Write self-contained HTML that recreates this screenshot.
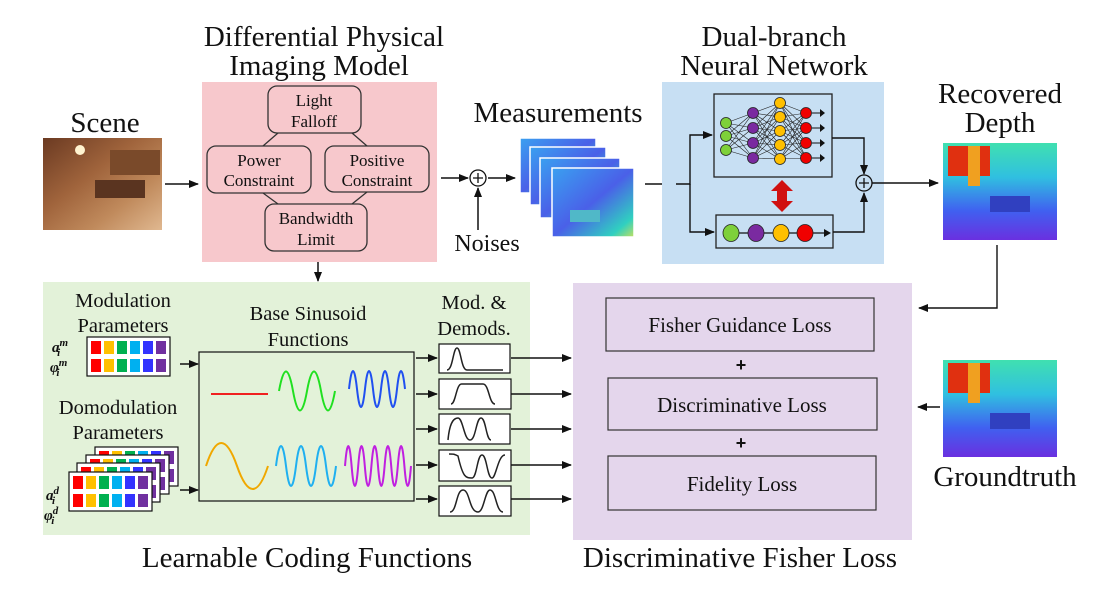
<!DOCTYPE html>
<html><head><meta charset="utf-8"><style>
html,body{margin:0;padding:0;background:#fff;}
svg{display:block;font-family:"Liberation Serif",serif;}
</style></head><body>
<svg width="1104" height="595" viewBox="0 0 1104 595" xmlns="http://www.w3.org/2000/svg">
<defs>
<marker id="ah" markerWidth="10" markerHeight="8" refX="9" refY="4" orient="auto" markerUnits="userSpaceOnUse"><path d="M0,0 L10,4 L0,8 z" fill="#111"/></marker>
<linearGradient id="scene" x1="0" y1="0" x2="1" y2="1"><stop offset="0" stop-color="#6b3a22"/><stop offset="0.4" stop-color="#a0643c"/><stop offset="0.7" stop-color="#c08a5c"/><stop offset="1" stop-color="#e0b890"/></linearGradient>
<linearGradient id="depth" x1="0" y1="0" x2="0" y2="1"><stop offset="0" stop-color="#40e0b0"/><stop offset="0.35" stop-color="#30c0e0"/><stop offset="0.7" stop-color="#4060f0"/><stop offset="1" stop-color="#6a30e0"/></linearGradient>
<linearGradient id="meas" x1="0" y1="0" x2="1" y2="1"><stop offset="0" stop-color="#3aa0f0"/><stop offset="0.5" stop-color="#4a60e8"/><stop offset="0.85" stop-color="#30d0c0"/><stop offset="1" stop-color="#c0e060"/></linearGradient>
</defs>

<g font-size="29" text-anchor="middle" fill="#111">
<text x="324" y="46">Differential Physical</text>
<text x="319" y="75">Imaging Model</text>
<text x="105" y="132">Scene</text>
<text x="558" y="122">Measurements</text>
<text x="774" y="46">Dual-branch</text>
<text x="774" y="75">Neural Network</text>
<text x="1000" y="103">Recovered</text>
<text x="1000" y="132">Depth</text>
<text x="1005" y="486">Groundtruth</text>
<text x="307" y="567">Learnable Coding Functions</text>
<text x="740" y="567">Discriminative Fisher Loss</text>
<text x="487" y="251" font-size="24">Noises</text>
</g>

<rect x="43" y="138" width="119" height="92" fill="url(#scene)"/>
<rect x="95" y="180" width="50" height="18" fill="#5a3420"/>
<rect x="110" y="150" width="50" height="25" fill="#7a4a2a"/>
<circle cx="80" cy="150" r="5" fill="#fff3d0"/>
<line x1="165" y1="184" x2="198" y2="184" stroke="#111" stroke-width="1.5" marker-end="url(#ah)"/>

<rect x="202" y="82" width="235" height="180" fill="#f7c8cc"/>
<g stroke="#333" stroke-width="1.3" fill="none">
<line x1="278" y1="133" x2="263" y2="146"/><line x1="352" y1="133" x2="367" y2="146"/>
<line x1="278" y1="204" x2="263" y2="193"/><line x1="352" y1="204" x2="367" y2="192"/>
</g>
<g fill="#f7c8cc" stroke="#333" stroke-width="1.3">
<rect x="268" y="86" width="93" height="47" rx="9"/>
<rect x="207" y="146" width="104" height="47" rx="9"/>
<rect x="325" y="146" width="104" height="46" rx="9"/>
<rect x="265" y="204" width="102" height="47" rx="9"/>
</g>
<g font-size="17" text-anchor="middle" fill="#111">
<text x="314" y="106">Light</text><text x="314" y="127">Falloff</text>
<text x="259" y="166">Power</text><text x="259" y="186">Constraint</text>
<text x="377" y="166">Positive</text><text x="377" y="186">Constraint</text>
<text x="316" y="224">Bandwidth</text><text x="316" y="245">Limit</text>
</g>
<line x1="318" y1="262" x2="318" y2="281" stroke="#111" stroke-width="1.5" marker-end="url(#ah)"/>

<line x1="441" y1="178" x2="468" y2="178" stroke="#111" stroke-width="1.5" marker-end="url(#ah)"/>
<circle cx="478" cy="178" r="8" fill="#fff" stroke="#111" stroke-width="1.3"/>
<path d="M473,178 h10 M478,173 v10" stroke="#111" stroke-width="1.3"/>
<line x1="478" y1="230" x2="478" y2="188" stroke="#111" stroke-width="1.5" marker-end="url(#ah)"/>
<line x1="488" y1="178" x2="515" y2="178" stroke="#111" stroke-width="1.5" marker-end="url(#ah)"/>

<g stroke="#fff" stroke-width="1.5">
<rect x="520" y="138" width="76" height="55" fill="url(#meas)"/>
<rect x="530" y="147" width="76" height="58" fill="url(#meas)"/>
<rect x="540" y="158" width="80" height="60" fill="url(#meas)"/>
<rect x="552" y="168" width="82" height="69" fill="url(#meas)"/>
</g>
<rect x="570" y="210" width="30" height="12" fill="#50b8c8"/>
<line x1="645" y1="184" x2="676" y2="184" stroke="#111" stroke-width="1.5" marker-end="url(#ah)"/>

<rect x="662" y="82" width="222" height="182" fill="#c7dff3"/>
<rect x="714" y="94" width="118" height="83" fill="none" stroke="#222" stroke-width="1.3"/>
<rect x="716" y="215" width="117" height="33" fill="none" stroke="#222" stroke-width="1.3"/>
<g stroke="#111" stroke-width="1.4" fill="none">
<path d="M676,184 H690 V135 H712" marker-end="url(#ah)"/>
<path d="M690,184 V232 H714" marker-end="url(#ah)"/>
<path d="M832,138 H864 V174" marker-end="url(#ah)"/>
<path d="M833,232 H864 V193" marker-end="url(#ah)"/>
<line x1="872" y1="183" x2="938" y2="183" marker-end="url(#ah)"/>
</g>
<circle cx="864" cy="183" r="8" fill="#c7dff3" stroke="#111" stroke-width="1.3"/>
<path d="M859,183 h10 M864,178 v10" stroke="#111" stroke-width="1.3"/>
<g stroke="#222" stroke-width="0.6">
<path d="M726,123 L753,113 M726,123 L753,128 M726,123 L753,143 M726,123 L753,158 M726,136 L753,113 M726,136 L753,128 M726,136 L753,143 M726,136 L753,158 M726,150 L753,113 M726,150 L753,128 M726,150 L753,143 M726,150 L753,158"/>
<path d="M753,113 L780,103 M753,113 L780,117 M753,113 L780,131 M753,113 L780,145 M753,113 L780,159 M753,128 L780,103 M753,128 L780,117 M753,128 L780,131 M753,128 L780,145 M753,128 L780,159 M753,143 L780,103 M753,143 L780,117 M753,143 L780,131 M753,143 L780,145 M753,143 L780,159 M753,158 L780,103 M753,158 L780,117 M753,158 L780,131 M753,158 L780,145 M753,158 L780,159"/>
<path d="M780,103 L806,113 M780,103 L806,128 M780,103 L806,143 M780,103 L806,158 M780,117 L806,113 M780,117 L806,128 M780,117 L806,143 M780,117 L806,158 M780,131 L806,113 M780,131 L806,128 M780,131 L806,143 M780,131 L806,158 M780,145 L806,113 M780,145 L806,128 M780,145 L806,143 M780,145 L806,158 M780,159 L806,113 M780,159 L806,128 M780,159 L806,143 M780,159 L806,158"/>
</g>
<g stroke="#222" stroke-width="0.8">
<circle cx="726" cy="123" r="5.5" fill="#7ed03a"/><circle cx="726" cy="136" r="5.5" fill="#7ed03a"/><circle cx="726" cy="150" r="5.5" fill="#7ed03a"/>
<circle cx="753" cy="113" r="5.5" fill="#7a2aa0"/><circle cx="753" cy="128" r="5.5" fill="#7a2aa0"/><circle cx="753" cy="143" r="5.5" fill="#7a2aa0"/><circle cx="753" cy="158" r="5.5" fill="#7a2aa0"/>
<circle cx="780" cy="103" r="5.5" fill="#ffc000"/><circle cx="780" cy="117" r="5.5" fill="#ffc000"/><circle cx="780" cy="131" r="5.5" fill="#ffc000"/><circle cx="780" cy="145" r="5.5" fill="#ffc000"/><circle cx="780" cy="159" r="5.5" fill="#ffc000"/>
<circle cx="806" cy="113" r="5.5" fill="#f00000"/><circle cx="806" cy="128" r="5.5" fill="#f00000"/><circle cx="806" cy="143" r="5.5" fill="#f00000"/><circle cx="806" cy="158" r="5.5" fill="#f00000"/>
</g>
<g stroke="#111" stroke-width="1"><path d="M812,113h8M812,128h8M812,143h8M812,158h8"/></g>
<g fill="#111"><path d="M820,109l5,4l-5,4z M820,124l5,4l-5,4z M820,139l5,4l-5,4z M820,154l5,4l-5,4z"/></g>
<line x1="730" y1="233" x2="826" y2="233" stroke="#111" stroke-width="1.2"/>
<path d="M824,229 l7,4 l-7,4z" fill="#111"/>
<g stroke="#222" stroke-width="0.8">
<ellipse cx="731" cy="233" rx="8" ry="8.5" fill="#7ed03a"/>
<ellipse cx="756" cy="233" rx="8" ry="8.5" fill="#7a2aa0"/>
<ellipse cx="781" cy="233" rx="8" ry="8.5" fill="#ffc000"/>
<ellipse cx="805" cy="233" rx="8" ry="8.5" fill="#f00000"/>
</g>
<path d="M782,180 l-11,11 h6 v10 h-6 l11,11 l11,-11 h-6 v-10 h6 z" fill="#d01010"/>

<rect x="943" y="143" width="114" height="97" fill="url(#depth)"/>
<rect x="948" y="146" width="42" height="30" fill="#e03010"/>
<rect x="968" y="146" width="12" height="40" fill="#f0a020"/>
<rect x="990" y="196" width="40" height="16" fill="#3040c0"/>
<rect x="943" y="360" width="114" height="97" fill="url(#depth)"/>
<rect x="948" y="363" width="42" height="30" fill="#e03010"/>
<rect x="968" y="363" width="12" height="40" fill="#f0a020"/>
<rect x="990" y="413" width="40" height="16" fill="#3040c0"/>
<path d="M997,245 V308 H919" fill="none" stroke="#111" stroke-width="1.4" marker-end="url(#ah)"/>
<line x1="940" y1="407" x2="918" y2="407" stroke="#111" stroke-width="1.4" marker-end="url(#ah)"/>

<rect x="43" y="282" width="487" height="253" fill="#e3f2d9"/>
<g font-size="20.5" text-anchor="middle" fill="#111">
<text x="123" y="307">Modulation</text><text x="123" y="332">Parameters</text>
<text x="118" y="414">Domodulation</text><text x="118" y="439">Parameters</text>
<text x="308" y="320">Base Sinusoid</text><text x="308" y="346">Functions</text>
<text x="474" y="309">Mod. &amp;</text><text x="474" y="335">Demods.</text>
</g>
<g font-size="15" font-style="italic" font-weight="bold" fill="#111">
<text x="52" y="352">a<tspan font-size="11" dy="-6">m</tspan><tspan font-size="11" dx="-11" dy="10">i</tspan></text>
<text x="50" y="372">φ<tspan font-size="11" dy="-6">m</tspan><tspan font-size="11" dx="-11" dy="10">i</tspan></text>
<text x="46" y="500">a<tspan font-size="11" dy="-6">d</tspan><tspan font-size="11" dx="-7" dy="10">i</tspan></text>
<text x="44" y="520">φ<tspan font-size="11" dy="-6">d</tspan><tspan font-size="11" dx="-7" dy="10">i</tspan></text>
</g>
<g id="grid">
<rect x="87" y="337" width="83" height="39" fill="#fff" stroke="#111" stroke-width="1.2"/>
<rect x="91" y="341" width="10" height="13" fill="#f00"/><rect x="104" y="341" width="10" height="13" fill="#ffc000"/><rect x="117" y="341" width="10" height="13" fill="#00b050"/><rect x="130" y="341" width="10" height="13" fill="#00b0f0"/><rect x="143" y="341" width="10" height="13" fill="#3333ff"/><rect x="156" y="341" width="10" height="13" fill="#7030a0"/>
<rect x="91" y="359" width="10" height="13" fill="#f00"/><rect x="104" y="359" width="10" height="13" fill="#ffc000"/><rect x="117" y="359" width="10" height="13" fill="#00b050"/><rect x="130" y="359" width="10" height="13" fill="#00b0f0"/><rect x="143" y="359" width="10" height="13" fill="#3333ff"/><rect x="156" y="359" width="10" height="13" fill="#7030a0"/>
</g>
<use href="#grid" x="8" y="110"/>
<use href="#grid" x="-1" y="118"/>
<use href="#grid" x="-10" y="126"/>
<use href="#grid" x="-18" y="135"/>
<line x1="180" y1="364" x2="198" y2="364" stroke="#111" stroke-width="1.5" marker-end="url(#ah)"/>
<line x1="180" y1="490" x2="198" y2="490" stroke="#111" stroke-width="1.5" marker-end="url(#ah)"/>
<rect x="199" y="352" width="215" height="149" fill="none" stroke="#111" stroke-width="1.2"/>
<g fill="none" stroke-width="2">
<line x1="211" y1="394" x2="268" y2="394" stroke="#f02020"/>
<path d="M279,391 Q286,352 293,391 T307,391 T321,391 T335,391" stroke="#20e020"/>
<path d="M349,389 q4,-36 8,0 t8,0 t8,0 t8,0 t8,0 t8,0 t8,0" stroke="#2050f0"/>
<path d="M206,466 Q221,420 237,466 T268,466" stroke="#f0a800"/>
<path d="M276,466 q5,-40 10,0 t10,0 t10,0 t10,0 t10,0 t10,0" stroke="#20b0f0"/>
<path d="M345,466 q3.3,-40 6.6,0 t6.6,0 t6.6,0 t6.6,0 t6.6,0 t6.6,0 t6.6,0 t6.6,0 t6.6,0 t6.6,0" stroke="#c020e0"/>
</g>
<g fill="#fff" stroke="#111" stroke-width="1.2">
<rect x="439" y="344" width="71" height="29"/>
<rect x="439" y="379" width="72" height="30"/>
<rect x="439" y="414" width="71" height="30"/>
<rect x="439" y="450" width="72" height="31"/>
<rect x="439" y="486" width="72" height="30"/>
</g>
<g fill="none" stroke="#222" stroke-width="1.5">
<path d="M447,370 C453,370 453,348 457,348 C461,348 461,370 467,370 H503"/>
<path d="M451,404 C456,404 456,383 462,384 H483 C489,384 489,404 495,404"/>
<path d="M448,440 C450,418 456,418 458,418 C463,418 464,440 470,440 C476,440 476,418 481,418 C486,418 486,440 491,440"/>
<path d="M449,454 C454,454 454,454 458,456 C463,478 466,478 472,478 C477,478 477,455 482,455 C487,455 487,478 492,478 C496,478 498,455 505,455"/>
<path d="M450,512 C457,512 456,490 463,490 C470,490 469,512 478,512 C484,512 485,490 490,490 C496,490 496,512 503,512"/>
</g>
<g stroke="#111" stroke-width="1.5">
<line x1="416" y1="358" x2="437" y2="358" marker-end="url(#ah)"/>
<line x1="416" y1="394" x2="437" y2="394" marker-end="url(#ah)"/>
<line x1="416" y1="429" x2="437" y2="429" marker-end="url(#ah)"/>
<line x1="416" y1="465" x2="437" y2="465" marker-end="url(#ah)"/>
<line x1="416" y1="499" x2="437" y2="499" marker-end="url(#ah)"/>
<line x1="511" y1="358" x2="571" y2="358" marker-end="url(#ah)"/>
<line x1="511" y1="394" x2="571" y2="394" marker-end="url(#ah)"/>
<line x1="511" y1="429" x2="571" y2="429" marker-end="url(#ah)"/>
<line x1="511" y1="465" x2="571" y2="465" marker-end="url(#ah)"/>
<line x1="511" y1="499" x2="571" y2="499" marker-end="url(#ah)"/>
</g>

<rect x="573" y="283" width="339" height="257" fill="#e4d6ec"/>
<g fill="none" stroke="#333" stroke-width="1.2">
<rect x="606" y="298" width="268" height="53"/>
<rect x="608" y="378" width="269" height="52"/>
<rect x="608" y="456" width="268" height="54"/>
</g>
<g font-size="21" text-anchor="middle" fill="#111">
<text x="740" y="332">Fisher Guidance Loss</text>
<text x="742" y="412">Discriminative Loss</text>
<text x="742" y="491">Fidelity Loss</text>
<text x="741" y="371" font-size="18" font-weight="bold" font-family="Liberation Sans, sans-serif">+</text>
<text x="741" y="449" font-size="18" font-weight="bold" font-family="Liberation Sans, sans-serif">+</text>
</g>
</svg>
</body></html>
